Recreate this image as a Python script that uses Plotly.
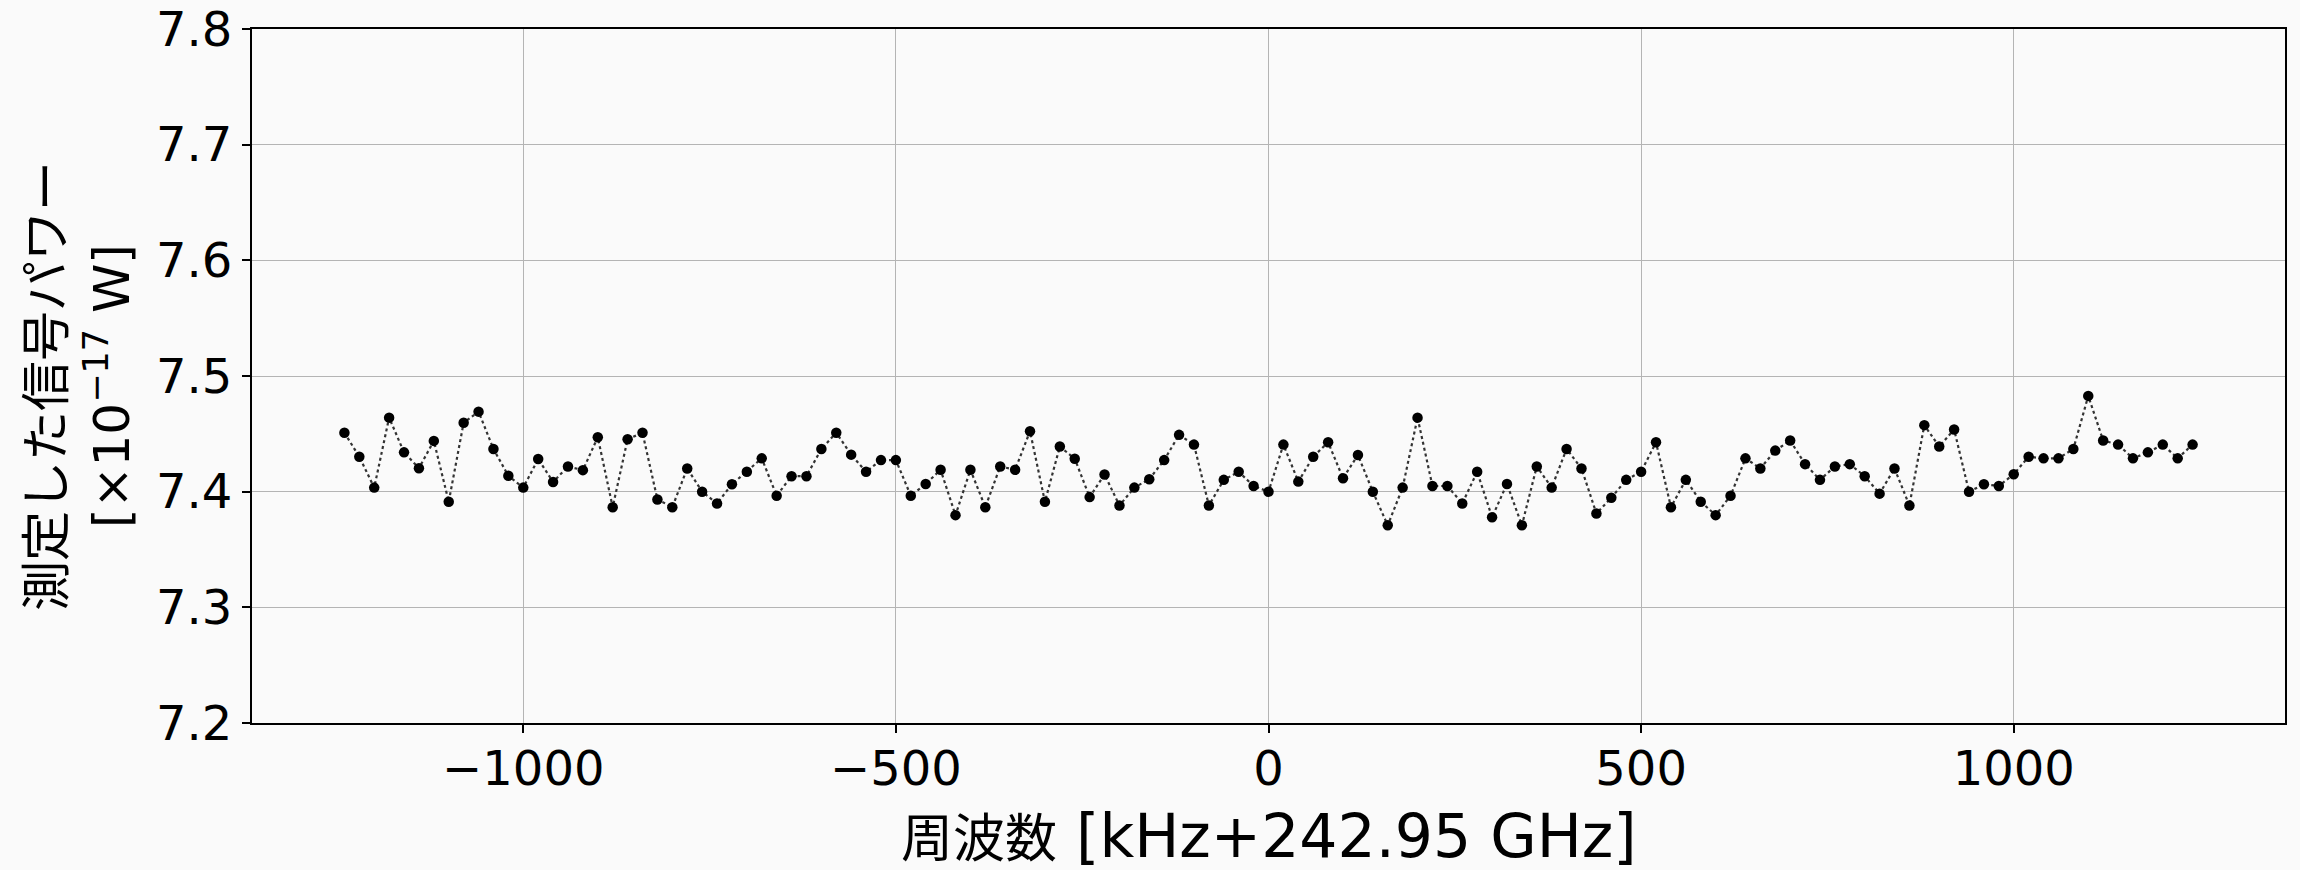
import plotly.graph_objects as go

freq_khz = list(range(-1240, 1241, 20))
power = [
    7.4509, 7.4302, 7.4035, 7.4640, 7.4340, 7.4203, 7.4439, 7.3913, 7.4596, 7.4692,
    7.4369, 7.4137, 7.4035, 7.4282, 7.4084, 7.4218, 7.4186, 7.4471, 7.3866, 7.4453,
    7.4509, 7.3933, 7.3866, 7.4201, 7.4000, 7.3898, 7.4064, 7.4172, 7.4288, 7.3965,
    7.4134, 7.4134, 7.4369, 7.4509, 7.4320, 7.4172, 7.4273, 7.4273, 7.3965, 7.4067,
    7.4189, 7.3797, 7.4189, 7.3866, 7.4218, 7.4189, 7.4523, 7.3913, 7.4390, 7.4285,
    7.3953, 7.4148, 7.3881, 7.4035, 7.4108, 7.4273, 7.4491, 7.4407, 7.3881, 7.4102,
    7.4172, 7.4049, 7.4000, 7.4407, 7.4087, 7.4302, 7.4427, 7.4116, 7.4317, 7.4000,
    7.3709, 7.4035, 7.4640, 7.4049, 7.4049, 7.3898, 7.4172, 7.3779, 7.4067, 7.3709,
    7.4218, 7.4035, 7.4369, 7.4201, 7.3811, 7.3948, 7.4102, 7.4172, 7.4427, 7.3866,
    7.4102, 7.3913, 7.3797, 7.3965, 7.4288, 7.4201, 7.4355, 7.4442, 7.4238, 7.4102,
    7.4218, 7.4238, 7.4134, 7.3983, 7.4201, 7.3881, 7.4575, 7.4390, 7.4538, 7.4000,
    7.4064, 7.4049, 7.4151, 7.4302, 7.4288, 7.4288, 7.4369, 7.4828, 7.4442, 7.4407,
    7.4288, 7.4340, 7.4407, 7.4288, 7.4407,
]

x_ticks = [-1000, -500, 0, 500, 1000]
y_ticks = [7.2, 7.3, 7.4, 7.5, 7.6, 7.7, 7.8]

x_title = '<span style="font-size:52px">周波数</span> [kHz+242.95 GHz]'
y_title = "測定した信号パワー<br>[×10<sup>−17</sup> W]"

bg = "#fafafa"
mixed = "DejaVu Sans, Noto Sans CJK JP"

W, H = 2300, 870
L, R, T, B = 252, 15, 29, 147
plot_h = H - T - B
plot_w = W - L - R

fig = go.Figure()
fig.add_trace(go.Scatter(
    x=freq_khz, y=power, mode="lines+markers",
    line=dict(color="#333333", width=2.2, dash="dot"),
    marker=dict(color="black", size=10.5),
    showlegend=False,
))

axis_common = dict(
    showgrid=True, gridcolor="#b4b4b4", gridwidth=1,
    showline=True, linecolor="black", linewidth=2, mirror=True,
    ticks="outside", ticklen=8, tickwidth=1.5, tickcolor="black",
    tickfont=dict(family="DejaVu Sans", size=48, color="black"),
    zeroline=False, automargin=False,
)

fig.update_layout(
    width=W, height=H,
    margin=dict(l=L, r=R, t=T, b=B),
    paper_bgcolor=bg, plot_bgcolor=bg,
    xaxis=dict(range=[-1364, 1364], tickvals=x_ticks, ticklabelstandoff=-6, **axis_common),
    yaxis=dict(range=[7.2, 7.8], tickvals=y_ticks, ticktext=[f"{v:.1f}" for v in y_ticks],
               **axis_common),
    annotations=[
        dict(text=x_title, xref="paper", yref="paper",
             x=0.5, y=(H - B - 836) / plot_h, xanchor="center", yanchor="middle",
             showarrow=False, font=dict(family=mixed, size=60, color="black")),
        dict(text=y_title, xref="paper", yref="paper", textangle=-90,
             x=(79 - L) / plot_w, y=(H - B - 386) / plot_h, xanchor="center", yanchor="middle",
             showarrow=False, font=dict(family=mixed, size=50, color="black")),
    ],
)

fig.write_html("out.html")
